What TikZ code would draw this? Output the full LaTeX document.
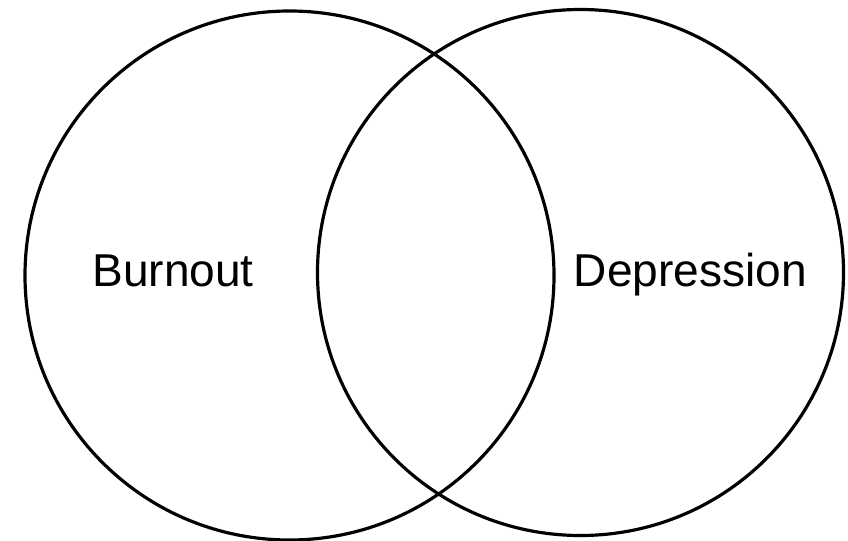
\documentclass[tikz,border=0pt]{standalone}
\usepackage{fontspec}
\setmainfont{Liberation Sans}

\begin{document}
\begin{tikzpicture}[x=1in,y=1in]
\useasboundingbox (0,-5.41) rectangle (8.48,0);
\draw[black, line width=2.3pt] (2.895,-2.755) circle (2.645);
\draw[black, line width=2.3pt] (5.805,-2.725) circle (2.63);
\node[font=\fontsize{33.3}{40}\selectfont, anchor=base] (burnout) at (1.73,-2.865) {Burnout};
\node[font=\fontsize{33.3}{40}\selectfont, anchor=base] (depression) at (6.905,-2.865) {Depression};
\end{tikzpicture}
\end{document}
